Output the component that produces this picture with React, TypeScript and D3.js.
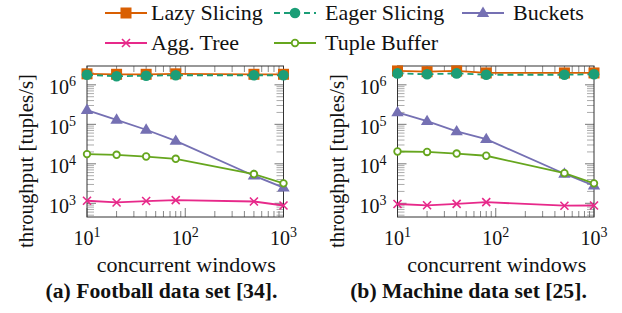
import React, { useEffect, useRef } from 'react';
import * as d3 from 'd3';

// concurrent windows (x values)
const windows = [10, 20, 40, 80, 500, 1000];

// (a) Football data set
const lazyFootball = [1.9e6, 1.85e6, 1.85e6, 1.9e6, 1.85e6, 1.85e6];
const eagerFootball = [1.8e6, 1.65e6, 1.7e6, 1.75e6, 1.75e6, 1.75e6];
const bucketsFootball = [2.3e5, 1.3e5, 7.3e4, 3.8e4, 5.0e3, 2.5e3];
const aggFootball = [1160, 1050, 1140, 1200, 1110, 880];
const tupleFootball = [1.76e4, 1.69e4, 1.53e4, 1.34e4, 5.5e3, 3.2e3];

// (b) Machine data set
const lazyMachine = [2.25e6, 2.15e6, 2.25e6, 2.0e6, 2.0e6, 2.0e6];
const eagerMachine = [1.95e6, 1.85e6, 1.95e6, 1.8e6, 1.8e6, 1.85e6];
const bucketsMachine = [2.0e5, 1.2e5, 6.6e4, 4.2e4, 5.6e3, 2.8e3];
const aggMachine = [960, 890, 970, 1070, 870, 880];
const tupleMachine = [2.05e4, 2.0e4, 1.82e4, 1.6e4, 5.8e3, 3.2e3];

const seriesNames = ['Lazy Slicing', 'Eager Slicing', 'Buckets', 'Agg. Tree', 'Tuple Buffer'];
const xTickExps = [1, 2, 3];
const yTickExps = [3, 4, 5, 6];
const captions = ['(a) Football data set [34].', '(b) Machine data set [25].'];

const colors = ['#d95f02', '#1b9e77', '#7570b3', '#e7298a', '#66a61e'];
const FONT = "'Liberation Serif', 'DejaVu Serif', serif";

const drawMarker = (g, kind, x, y, color) => {
  if (kind === 0) {
    g.append('rect').attr('x', x - 5.5).attr('y', y - 5.5).attr('width', 11).attr('height', 11).attr('fill', color);
  } else if (kind === 1) {
    g.append('circle').attr('cx', x).attr('cy', y).attr('r', 5.3).attr('fill', color);
  } else if (kind === 2) {
    const s = 6.5;
    g.append('path')
      .attr('d', `M${x},${y - s}L${x + s * 0.95},${y + s * 0.6}L${x - s * 0.95},${y + s * 0.6}Z`)
      .attr('fill', color);
  } else if (kind === 3) {
    const s = 4;
    g.append('path')
      .attr('d', `M${x - s},${y - s}L${x + s},${y + s}M${x - s},${y + s}L${x + s},${y - s}`)
      .attr('stroke', color).attr('stroke-width', 1.6);
  } else {
    g.append('circle').attr('cx', x).attr('cy', y).attr('r', 3.3)
      .attr('fill', '#fff').attr('stroke', color).attr('stroke-width', 1.8);
  }
};

const App = () => {
  const svgRef = useRef(null);

  useEffect(() => {
    const svg = d3.select(svgRef.current);
    svg.selectAll('*').remove();
    svg.style('font-family', FONT);

    const panels = [
      { left: 87, series: [lazyFootball, eagerFootball, bucketsFootball, aggFootball, tupleFootball], capX: 161.5 },
      { left: 397.5, series: [lazyMachine, eagerMachine, bucketsMachine, aggMachine, tupleMachine], capX: 468.5 },
    ];
    const top = 66;
    const bottom = 217;
    const plotW = 196.5;

    panels.forEach((p, pi) => {
      const x = d3.scaleLog().domain([10, 1000]).range([p.left, p.left + plotW]);
      const y = d3.scaleLog().domain([450, 3e6]).range([bottom, top]);
      const g = svg.append('g');

      // minor + major ticks (inward, mirrored)
      const xMinor = [];
      [10, 100].forEach(d => { for (let k = 2; k <= 9; k++) xMinor.push(d * k); });
      const yMinor = [];
      [100, 1000, 1e4, 1e5, 1e6].forEach(d => { for (let k = 2; k <= 9; k++) { const v = d * k; if (v > 450 && v < 3e6) yMinor.push(v); } });

      const tickColor = '#555';
      xMinor.forEach(v => {
        g.append('line').attr('x1', x(v)).attr('x2', x(v)).attr('y1', bottom).attr('y2', bottom - 6).attr('stroke', tickColor).attr('stroke-width', 0.7);
        g.append('line').attr('x1', x(v)).attr('x2', x(v)).attr('y1', top).attr('y2', top + 6).attr('stroke', tickColor).attr('stroke-width', 0.7);
      });
      yMinor.forEach(v => {
        g.append('line').attr('x1', p.left).attr('x2', p.left + 7).attr('y1', y(v)).attr('y2', y(v)).attr('stroke', '#888').attr('stroke-width', 0.7);
        g.append('line').attr('x1', p.left + plotW).attr('x2', p.left + plotW - 7).attr('y1', y(v)).attr('y2', y(v)).attr('stroke', '#888').attr('stroke-width', 0.7);
      });
      xTickExps.forEach(e => {
        const v = Math.pow(10, e);
        g.append('line').attr('x1', x(v)).attr('x2', x(v)).attr('y1', bottom).attr('y2', bottom - 9).attr('stroke', tickColor).attr('stroke-width', 0.8);
        g.append('line').attr('x1', x(v)).attr('x2', x(v)).attr('y1', top).attr('y2', top + 9).attr('stroke', tickColor).attr('stroke-width', 0.8);
      });
      yTickExps.forEach(e => {
        const v = Math.pow(10, e);
        g.append('line').attr('x1', p.left).attr('x2', p.left + 9).attr('y1', y(v)).attr('y2', y(v)).attr('stroke', tickColor).attr('stroke-width', 0.8);
        g.append('line').attr('x1', p.left + plotW).attr('x2', p.left + plotW - 9).attr('y1', y(v)).attr('y2', y(v)).attr('stroke', tickColor).attr('stroke-width', 0.8);
      });

      // frame
      g.append('rect').attr('x', p.left).attr('y', top).attr('width', plotW).attr('height', bottom - top)
        .attr('fill', 'none').attr('stroke', '#333').attr('stroke-width', 1);

      // tick labels
      xTickExps.forEach(e => {
        const t = g.append('text').attr('x', x(Math.pow(10, e))).attr('y', 245)
          .attr('text-anchor', 'middle').style('font-family', FONT).attr('font-size', 20).attr('fill', '#111');
        t.append('tspan').text('10');
        t.append('tspan').attr('dy', -8).attr('font-size', 14).text(String(e));
      });
      yTickExps.forEach(e => {
        const t = g.append('text').attr('x', p.left - 11).attr('y', y(Math.pow(10, e)) + 9.5)
          .attr('text-anchor', 'end').style('font-family', FONT).attr('font-size', 20).attr('fill', '#111');
        t.append('tspan').text('10');
        t.append('tspan').attr('dy', -8).attr('font-size', 14).text(String(e));
      });

      // axis titles
      g.append('text').attr('transform', `translate(${p.left - 54},161) rotate(-90)`)
        .attr('text-anchor', 'middle').style('font-family', FONT).attr('font-size', 20.8).attr('fill', '#111')
        .text('throughput [tuples/s]');
      g.append('text').attr('x', p.left + plotW / 2 + 1).attr('y', 272)
        .attr('text-anchor', 'middle').style('font-family', FONT).attr('font-size', 22).attr('fill', '#111')
        .text('concurrent windows');
      g.append('text').attr('x', p.capX).attr('y', 298)
        .attr('text-anchor', 'middle').style('font-family', FONT).attr('font-size', 21.7).attr('font-weight', 'bold').attr('fill', '#111')
        .text(captions[pi]);

      // series
      p.series.forEach((vals, si) => {
        const pts = windows.map((w, i) => [x(w), y(vals[i])]);
        g.append('path').attr('d', d3.line()(pts)).attr('fill', 'none')
          .attr('stroke', colors[si]).attr('stroke-width', 1.8)
          .attr('stroke-dasharray', si === 1 ? '6,4' : null);
        pts.forEach(([px, py]) => drawMarker(g, si, px, py, colors[si]));
      });
    });

    // legend: line start, text start, row y
    const legendPos = [
      { x: 105, tx: 151, y: 13 }, { x: 274, tx: 325, y: 13 }, { x: 462, tx: 513, y: 13 },
      { x: 105, tx: 151, y: 43 }, { x: 274, tx: 325, y: 43 },
    ];
    seriesNames.forEach((name, si) => {
      const { x: lx, tx, y: ly } = legendPos[si];
      const lg = svg.append('g');
      lg.append('line').attr('x1', lx).attr('x2', lx + 42).attr('y1', ly).attr('y2', ly)
        .attr('stroke', colors[si]).attr('stroke-width', 1.8)
        .attr('stroke-dasharray', si === 1 ? '6,4' : null);
      drawMarker(lg, si, lx + 21, ly, colors[si]);
      lg.append('text').attr('x', tx).attr('y', ly + 7).style('font-family', FONT).attr('font-size', 22).attr('fill', '#111')
        .text(name);
    });
  }, []);

  return (
    <div style={{ position: 'fixed', left: 0, top: 0 }}>
      <svg ref={svgRef} width={622} height={313} style={{ display: 'block', background: '#fff' }} />
    </div>
  );
};

export default App;
